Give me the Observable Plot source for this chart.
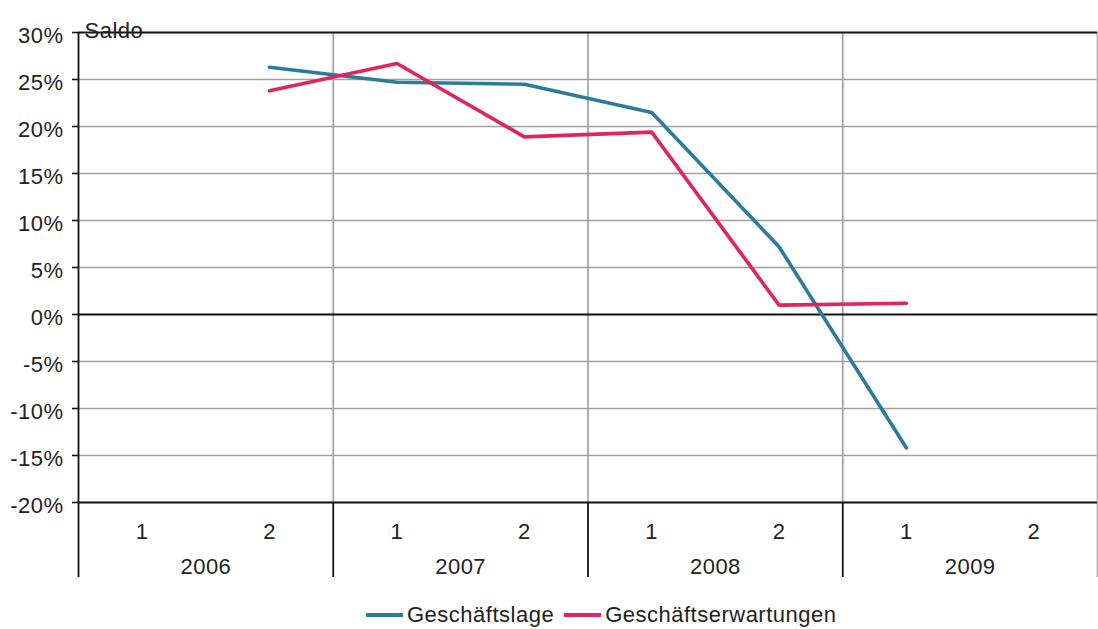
<!DOCTYPE html>
<html>
<head>
<meta charset="utf-8">
<script src="https://cdn.jsdelivr.net/npm/d3@7"></script>
<script src="https://cdn.jsdelivr.net/npm/@observablehq/plot@0.6"></script>
<style>
  body { margin: 0; background: #fff; font-family: "Liberation Sans", Arial, sans-serif; color: #222; }
  #legend { display: flex; align-items: center; height: 60px; padding-left: 366px; font-size: 22px; letter-spacing: 0.5px; }
  .sw { width: 37px; height: 4px; margin-right: 4px; }
  .item { display: flex; align-items: center; margin-right: 10px; }
</style>
</head>
<body>
<div id="chart"></div>
<div id="legend"></div>
<script>
const years = ["2006", "2007", "2008", "2009"];
const halfYears = ["1", "2"];
const periods = ["2006-2", "2007-1", "2007-2", "2008-1", "2008-2", "2009-1"];
const geschaeftslage = [26.3, 24.7, 24.5, 21.5, 7.2, -14.2];
const geschaeftserwartungen = [23.8, 26.7, 18.9, 19.4, 1.0, 1.2];
const yTicks = [-20, -15, -10, -5, 0, 5, 10, 15, 20, 25, 30];
const seriesNames = ["Geschäftslage", "Geschäftserwartungen"];
const colors = ["#2b7b9b", "#e0245e"];

// slots: every half year
const slots = years.flatMap(y => halfYears.map(h => ({year: y, half: h, key: `${y}-${h}`})));
const slotIndex = k => slots.findIndex(s => s.key === k);

const data = [
  ...periods.map((p, i) => ({series: seriesNames[0], x: slotIndex(p) + 0.5, y: geschaeftslage[i]})),
  ...periods.map((p, i) => ({series: seriesNames[1], x: slotIndex(p) + 0.5, y: geschaeftserwartungen[i]}))
];
const yearBounds = years.map((y, i) => i * halfYears.length);
const xMax = slots.length;
const innerBounds = yearBounds.filter(d => d > 0);
const FS = 22;

const chart = Plot.plot({
  width: 1098,
  height: 585,
  marginLeft: 78,
  marginRight: 1,
  marginTop: 32,
  marginBottom: 83,
  style: {fontFamily: "Liberation Sans, Arial, sans-serif", fontSize: "16px", color: "#222", letterSpacing: "0.5px"},
  x: {type: "linear", domain: [0, xMax], axis: null},
  y: {type: "linear", domain: [-20, 30], axis: null},
  color: {domain: seriesNames, range: colors},
  marks: [
    Plot.ruleY(yTicks.filter(d => d !== 0 && d !== -20 && d !== 30), {y: d => d, stroke: "#a0a0a0", strokeWidth: 1.7}),
    Plot.ruleX(innerBounds, {x: d => d, y1: -20, y2: 30, stroke: "#a0a0a0", strokeWidth: 1.7}),
    Plot.ruleX([xMax], {x: d => d, y1: -20, y2: 30, stroke: "#b0b0b0", strokeWidth: 1.7}),
    Plot.ruleX([xMax], {x: d => d, y1: -20, y2: -20, insetBottom: -75, stroke: "#b0b0b0", strokeWidth: 1.7}),
    Plot.ruleX(innerBounds, {x: d => d, y1: -20, y2: -20, insetBottom: -75, stroke: "#111", strokeWidth: 1.8}),
    Plot.ruleY([0, -20, 30], {y: d => d, stroke: "#111", strokeWidth: 1.8}),
    Plot.ruleX([0], {x: d => d, y1: -20, y2: 30, stroke: "#111", strokeWidth: 1.8}),
    Plot.ruleX([0], {x: d => d, y1: -20, y2: -20, insetBottom: -75, stroke: "#111", strokeWidth: 1.8}),
    Plot.axisY({ticks: yTicks, tickSize: 6, text: null, label: null, stroke: "#111", strokeWidth: 1.6}),
    Plot.text(yTicks, {frameAnchor: "left", y: d => d, text: d => `${d}%`, textAnchor: "end", dx: -15, dy: 3, fontSize: FS}),
    Plot.line(data, {x: "x", y: "y", stroke: "series", z: "series", strokeWidth: 3.6}),
    Plot.text(slots, {x: (d, i) => i + 0.5, y: () => -20, text: "half", dy: 29, fontSize: FS}),
    Plot.text(years, {x: (d, i) => i * halfYears.length + halfYears.length / 2, y: () => -20, text: d => d, dy: 64, fontSize: FS}),
    Plot.text(["Saldo"], {frameAnchor: "top-left", textAnchor: "start", dx: 6, dy: -10, text: d => d, fontSize: FS})
  ]
});
document.getElementById("chart").appendChild(chart);

const legend = document.getElementById("legend");
seriesNames.forEach((n, i) => {
  const it = document.createElement("div");
  it.className = "item";
  it.innerHTML = `<div class="sw" style="background:${colors[i]}"></div><span>${n}</span>`;
  legend.appendChild(it);
});
</script>
</body>
</html>
